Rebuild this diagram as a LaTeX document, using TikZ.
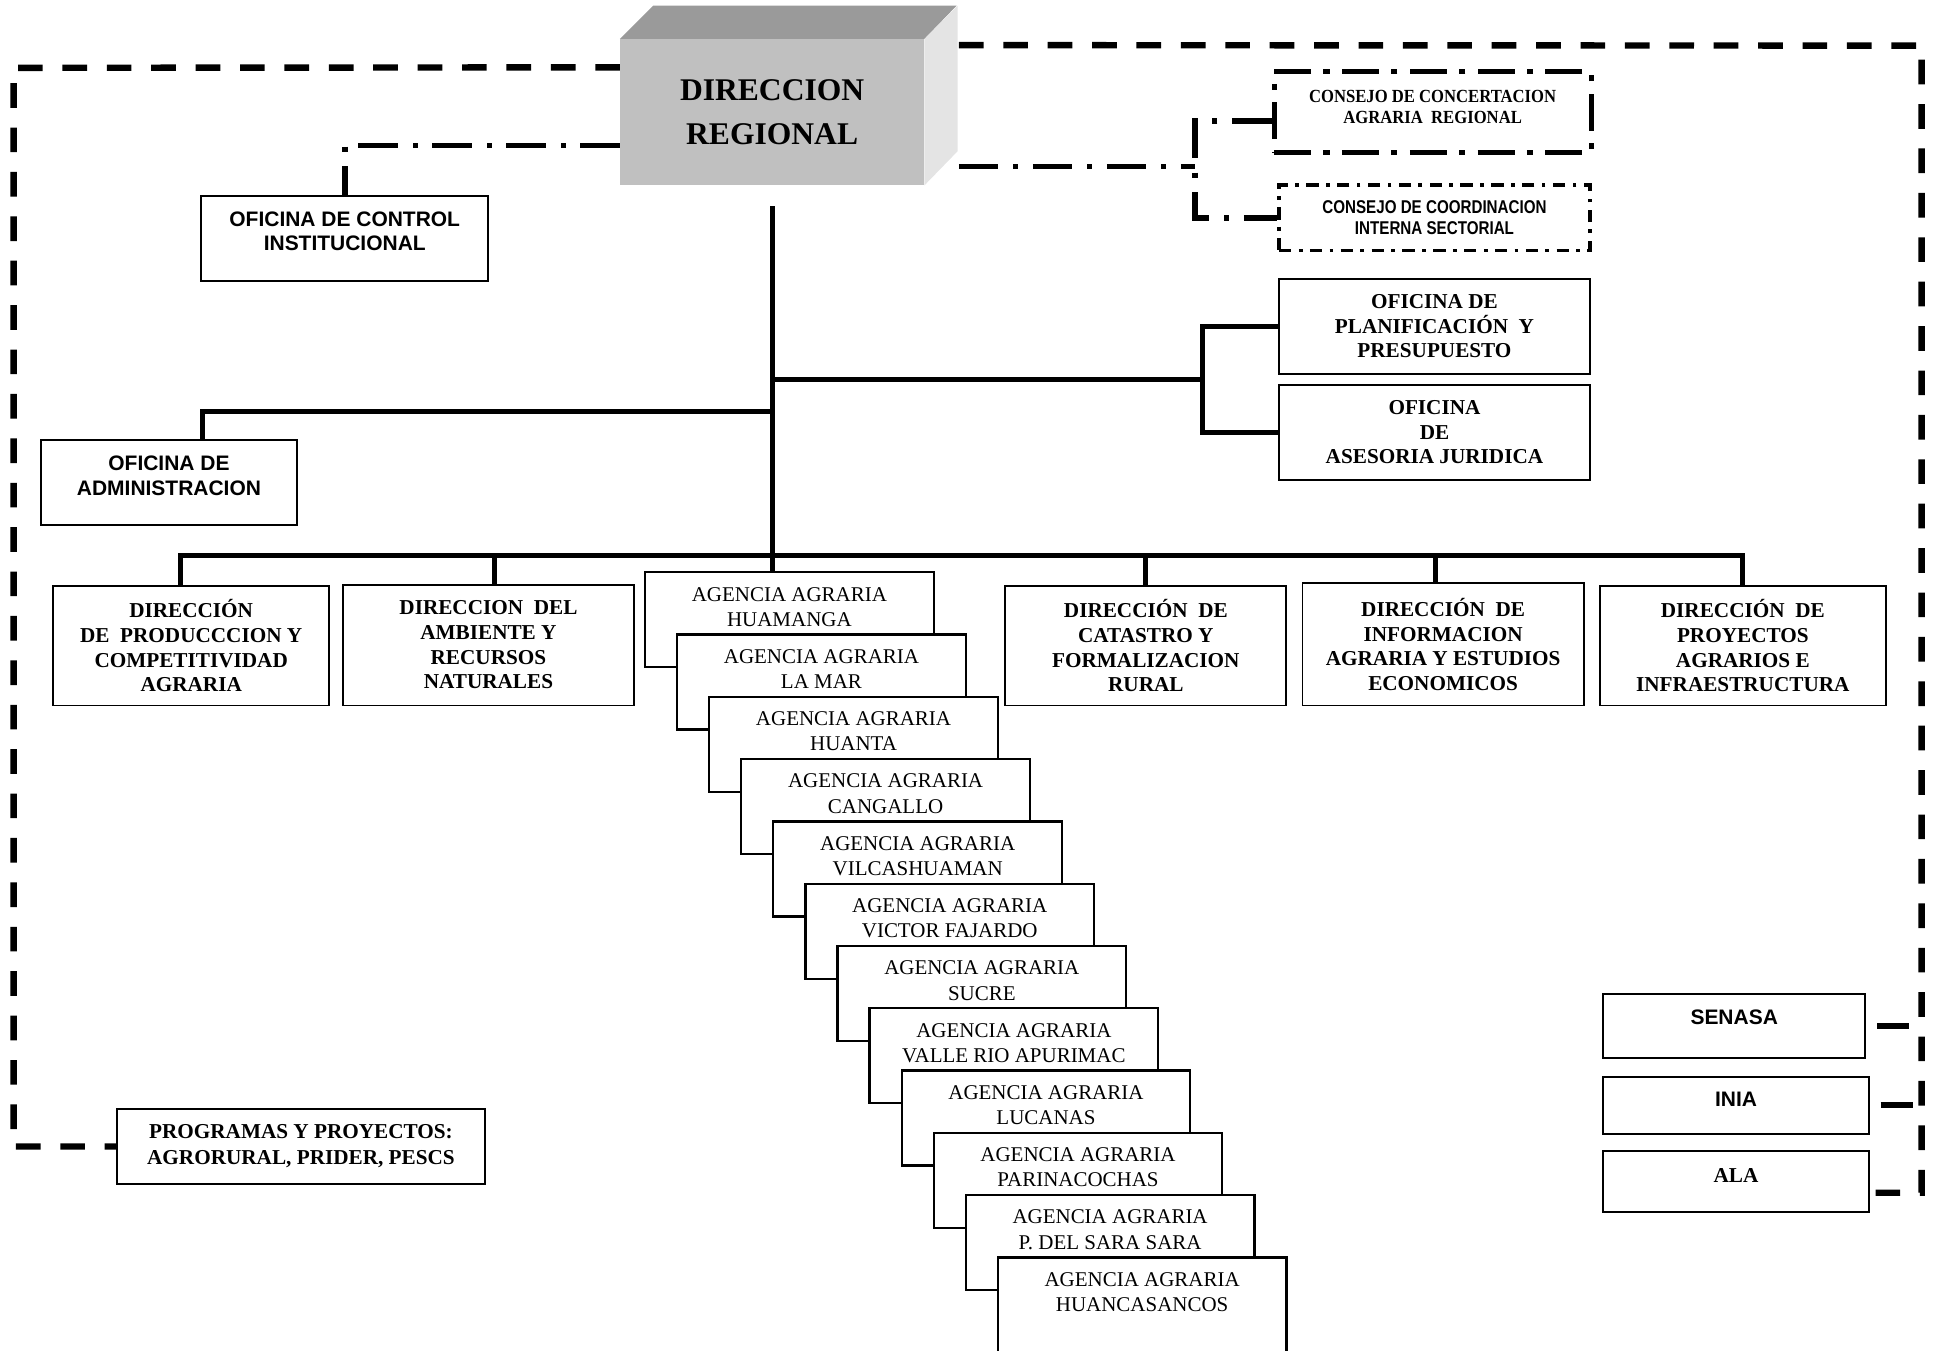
\documentclass[tikz,border=0pt]{standalone}
\usepackage{fontspec}
\setmainfont{Liberation Serif}
\newfontfamily\arialfont{Liberation Sans}
\newfontfamily\narrowsans[FakeStretch=0.82]{Liberation Sans}
\newfontfamily\narrowserif[FakeStretch=0.9]{Liberation Serif}
\definecolor{boxfront}{HTML}{C0C0C0}
\definecolor{boxtop}{HTML}{9A9A9A}
\definecolor{boxside}{HTML}{E4E4E4}

\tikzset{
  unit/.style={draw, line width=0.8pt, fill=white, align=center, inner sep=1pt},
  dirbox/.style={unit, font=\bfseries\fontsize{8.6}{10}\selectfont},
  sansbox/.style={unit, font=\arialfont\bfseries\fontsize{8.5}{10}\selectfont},
  agbox/.style={unit, line width=0.9pt, minimum width=117pt, minimum height=38.5pt,
    text depth=10.6pt, font=\fontsize{8.5}{10.25}\selectfont},
  conn/.style={line width=2pt},
  frameline/.style={line width=2.6pt, dash pattern=on 10pt off 8pt},
  stubline/.style={line width=2.6pt, dash pattern=on 0pt off 4.5pt on 13pt off 10pt},
  dashdotline/.style={line width=2.4pt, dash pattern=on 16pt off 6pt on 2pt off 6pt},
}

\begin{document}
\begin{tikzpicture}[x=0.5pt, y=-0.5pt]
\useasboundingbox (0,0) rectangle (1568,1095);

% direccion regional (caja en relieve)
\node[fill=boxfront, minimum width=123pt, minimum height=59pt, align=center,
  font=\bfseries\fontsize{12.8}{18}\selectfont] (DR) at (626,91) {DIRECCION\\REGIONAL};
\fill[boxtop] (DR.north west) -- ++(13.5pt,13.5pt) -- ++(123pt,0) -- (DR.north east) -- cycle;
\fill[boxside] (DR.north east) -- ++(13.5pt,13.5pt) -- ++(0,-59pt) -- (DR.south east) -- cycle;

% organos de apoyo y consejos
\node[sansbox, minimum width=116.5pt, minimum height=34.5pt, text depth=6pt] (OCI) at (279.5,193.5) {OFICINA DE CONTROL\\INSTITUCIONAL};
\node[unit, line width=2pt, dash pattern=on 15pt off 5pt on 2.5pt off 5pt, minimum width=128.5pt, minimum height=33pt,
  text depth=4pt, font=\narrowserif\bfseries\fontsize{7.5}{8.5}\selectfont] (CCAR) at (1161.5,91) {CONSEJO DE CONCERTACION\\AGRARIA~ REGIONAL};
\node[unit, line width=1.4pt, dash pattern=on 5pt off 3pt on 1.5pt off 3pt, minimum width=126pt, minimum height=26.5pt,
  font=\narrowsans\bfseries\fontsize{7.5}{8.5}\selectfont] (CCIS) at (1163,176.5) {CONSEJO DE COORDINACION\\INTERNA SECTORIAL};
\node[dirbox, minimum width=126pt, minimum height=38.5pt] (OPP) at (1163,264.5) {OFICINA DE\\PLANIFICACIÓN~ Y\\PRESUPUESTO};
\node[dirbox, minimum width=126pt, minimum height=38.5pt] (OAJ) at (1163,350.5) {OFICINA\\DE\\ASESORIA JURIDICA};
\node[sansbox, minimum width=104pt, minimum height=34.5pt, text depth=6pt] (ADM) at (137,391.5) {OFICINA DE\\ADMINISTRACION};

% direcciones de linea
\node[dirbox, minimum width=112pt, minimum height=48.5pt] (DPCA) at (155,523.5) {DIRECCIÓN\\DE~ PRODUCCCION Y\\COMPETITIVIDAD\\AGRARIA};
\node[dirbox, minimum width=118pt, minimum height=49pt] (DARN) at (396,523) {DIRECCION~ DEL\\AMBIENTE Y\\RECURSOS\\NATURALES};
\node[dirbox, minimum width=114pt, minimum height=48.5pt] (DCFR) at (929,523.5) {DIRECCIÓN~ DE\\CATASTRO Y\\FORMALIZACION\\RURAL};
\node[dirbox, minimum width=114pt, minimum height=49.5pt] (DIAEE) at (1170,522.5) {DIRECCIÓN~ DE\\INFORMACION\\AGRARIA Y ESTUDIOS\\ECONOMICOS};
\node[dirbox, minimum width=116pt, minimum height=48.5pt] (DPAI) at (1413,523.5) {DIRECCIÓN~ DE\\PROYECTOS\\AGRARIOS E\\INFRAESTRUCTURA};

% agencias agrarias escalonadas
\foreach \agname [count=\k from 0] in {HUAMANGA, LA MAR, HUANTA, CANGALLO, VILCASHUAMAN, VICTOR FAJARDO,
    SUCRE, VALLE RIO APURIMAC, LUCANAS, PARINACOCHAS, P. DEL SARA SARA, HUANCASANCOS}
  \node[agbox] (ag\k) at (640+26*\k, 502.5+50.5*\k) {AGENCIA AGRARIA\\\agname};

% organismos adscritos
\node[sansbox, minimum width=106pt, minimum height=26pt, text depth=7pt] (SENASA) at (1406,832) {SENASA};
\node[sansbox, minimum width=107.5pt, minimum height=23pt, text depth=5pt] (INIA) at (1407.5,896) {INIA};
\node[dirbox, minimum width=107.5pt, minimum height=25pt, text depth=5pt] (ALA) at (1407.5,958) {ALA};
\node[dirbox, minimum width=149pt, minimum height=30.5pt, font=\bfseries\fontsize{8.6}{10.5}\selectfont] (PROG) at (244,929.5) {PROGRAMAS Y PROYECTOS:\\AGRORURAL, PRIDER, PESCS};

% lineas de mando
\coordinate (jright) at (626,308);
\coordinate (jleft) at (626,334);
\coordinate (bus) at (626,450);
\coordinate (brk) at (975,308);
\draw[conn] ([yshift=-8.5pt]DR.south) -- (ag0.north -| DR.south);
\draw[conn] (jright) -- (brk);
\draw[conn] (OPP.west) -- (OPP.west -| brk) -- (OAJ.west -| brk) -- (OAJ.west);
\draw[conn] ([xshift=13.5pt]ADM.north) |- (jleft);
\draw[conn] ([xshift=-4.5pt]DPCA.north) |- (bus) -| (DPAI.north);
\draw[conn] ([xshift=2.5pt]DARN.north) -- ([xshift=2.5pt]DARN.north |- bus);
\draw[conn] (DCFR.north) -- (DCFR.north |- bus);
\draw[conn] ([xshift=-3pt]DIAEE.north) -- ([xshift=-3pt]DIAEE.north |- bus);

% coordinacion (punto y raya)
\coordinate (cbrk) at (969,135);
\draw[dashdotline] ([yshift=-13.5pt]DR.west) -| (OCI.north);
\draw[dashdotline] ([xshift=14pt,yshift=-22pt]DR.east) -- (cbrk);
\draw[dashdotline] ([yshift=-3.5pt]CCAR.west) -| (cbrk) |- (CCIS.west);

% marco discontinuo
\coordinate (frameNW) at (11,55);
\coordinate (frameNE) at (1558,37);
\draw[frameline] ([yshift=-11.5pt]DR.north west) -- (frameNW) |- (PROG.west);
\draw[frameline] ([xshift=14pt,yshift=-2.5pt]DR.north east) -- (frameNE) |- ([yshift=-4.5pt]ALA.east);
\draw[stubline] (SENASA.east) -- (SENASA.east -| frameNE);
\draw[stubline] (INIA.east) -- (INIA.east -| frameNE);
\end{tikzpicture}
\end{document}
